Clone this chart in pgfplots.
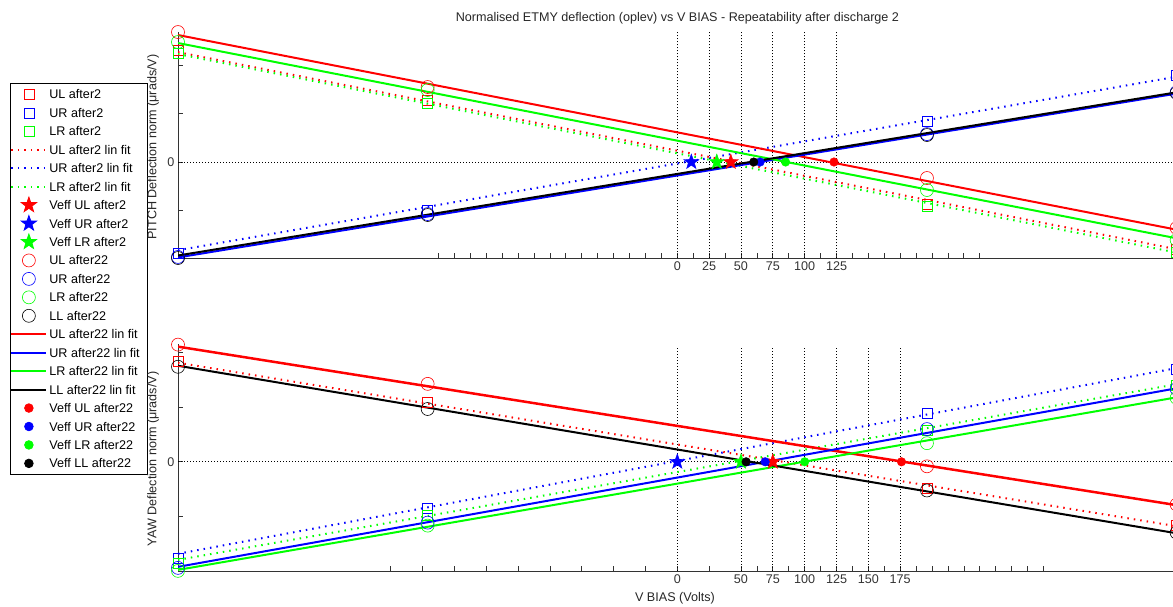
\documentclass[border=0pt]{standalone}
\usepackage{fontspec}
\setmainfont{Liberation Sans}
\usepackage{pgfplots}
\pgfplotsset{compat=1.18}
\usetikzlibrary{plotmarks}
\definecolor{mred}{rgb}{1,0,0}
\definecolor{mblue}{rgb}{0,0,1}
\definecolor{mgreen}{rgb}{0,1,0}
\pgfdeclareplotmark{fstar}{%
 \pgfpathmoveto{\pgfpointpolar{90}{\pgfplotmarksize}}%
 \pgfpathlineto{\pgfpointpolar{126}{0.4\pgfplotmarksize}}%
 \pgfpathlineto{\pgfpointpolar{162}{\pgfplotmarksize}}%
 \pgfpathlineto{\pgfpointpolar{198}{0.4\pgfplotmarksize}}%
 \pgfpathlineto{\pgfpointpolar{234}{\pgfplotmarksize}}%
 \pgfpathlineto{\pgfpointpolar{270}{0.4\pgfplotmarksize}}%
 \pgfpathlineto{\pgfpointpolar{306}{\pgfplotmarksize}}%
 \pgfpathlineto{\pgfpointpolar{342}{0.4\pgfplotmarksize}}%
 \pgfpathlineto{\pgfpointpolar{18}{\pgfplotmarksize}}%
 \pgfpathlineto{\pgfpointpolar{54}{0.4\pgfplotmarksize}}%
 \pgfpathclose\pgfusepathqfillstroke}
\newcommand{\mfont}{\fontsize{12.6}{15}\selectfont}
\pgfplotsset{
 sq/.style={only marks, mark=square, mark size=5pt, mark options={solid, line width=0.6pt, draw=#1}, color=#1},
 fitd/.style={no marks, line width=2pt, dash pattern=on 1.5pt off 5pt, color=#1},
 vst/.style={only marks, mark=fstar, mark size=8pt, color=#1, mark options={solid, draw=#1, fill=#1}},
 ci/.style={only marks, mark=o, mark size=6.5pt, mark options={solid, line width=0.6pt, draw=#1}, color=#1},
 fits/.style={no marks, line width=2pt, solid, color=#1},
 vd/.style={only marks, mark=*, mark size=4.3pt, color=#1, mark options={solid, draw=#1, fill=#1}},
 gridv/.style={no marks, black, line width=0.7pt, dash pattern=on 1pt off 2pt, forget plot},
 base/.style={scale only axis, width=998.6pt, xmin=-392, xmax=392, ymin=-2,
  axis x line=bottom, axis y line=left,
  axis line style={-, black!80, line width=0.8pt},
  tick align=inside, tick style={black!80, line width=0.8pt},
  major tick length=5pt, minor tick length=5pt,
  ytick={0}, yticklabels={0},
  every tick label/.append style={font=\mfont, text=black!80},
  legend image code/.code={%
    \draw[#1, mark repeat=2, mark phase=2] plot coordinates {(0pt,0pt) (17.5pt,0pt) (35pt,0pt)};},
 }
}
\begin{document}
\begin{tikzpicture}
\begin{axis}[base, at={(178pt,348.6pt)}, anchor=south west, height=226.5pt, ymax=2.7,
  minor ytick={-2,-1,1,2},
  xtick={0,25,50,75,100,125}, xticklabels={0,25,50,75,100,125},
  minor xtick={-187.5,-175,...,237.5},
  legend cell align=left,
  legend style={at={(axis description cs:-0.16824,0.7744)}, anchor=north west, draw=black, line width=0.8pt, fill=white,
    font=\mfont, inner xsep=0pt, inner ysep=2.8pt, row sep=2.05pt, column sep=2pt,
    nodes={inner sep=0pt, text height=12.7pt, text depth=3.7pt}}]
\addplot[gridv] coordinates {(-392,0) (392,0)};
\addplot[gridv] coordinates {(0,-2) (0,2.7)};
\addplot[gridv] coordinates {(25,-2) (25,2.7)};
\addplot[gridv] coordinates {(50,-2) (50,2.7)};
\addplot[gridv] coordinates {(75,-2) (75,2.7)};
\addplot[gridv] coordinates {(100,-2) (100,2.7)};
\addplot[gridv] coordinates {(125,-2) (125,2.7)};
% after2 squares
\addplot[sq=mred] coordinates {(-392,2.324) (-196,1.286) (196,-0.871) (392,-1.805)};
\addlegendentry{UL after2}
\addplot[sq=mblue] coordinates {(-392,-1.888) (-196,-0.996) (196,0.851) (392,1.805)};
\addlegendentry{UR after2}
\addplot[sq=mgreen] coordinates {(-392,2.261) (-196,1.224) (196,-0.913) (392,-1.867)};
\addlegendentry{LR after2}
% after2 fits
\addplot[fitd=mred] coordinates {(-392,2.28) (392,-1.81)};
\addlegendentry{UL after2 lin fit}
\addplot[fitd=mblue] coordinates {(-392,-1.83) (392,1.77)};
\addlegendentry{UR after2 lin fit}
\addplot[fitd=mgreen] coordinates {(-392,2.24) (392,-1.88)};
\addlegendentry{LR after2 lin fit}
% Veff after2
\addplot[vst=mred] coordinates {(42,0)};
\addlegendentry{Veff UL after2}
\addplot[vst=mblue] coordinates {(11,0)};
\addlegendentry{Veff UR after2}
\addplot[vst=mgreen] coordinates {(31,0)};
\addlegendentry{Veff LR after2}
% after22 circles
\addplot[ci=mred] coordinates {(-392,2.697) (-196,1.556) (196,-0.332) (392,-1.369)};
\addlegendentry{UL after22}
\addplot[ci=mblue] coordinates {(-392,-1.97) (-196,-1.08) (196,0.58) (392,1.45)};
\addlegendentry{UR after22}
\addplot[ci=mgreen] coordinates {(-392,2.490) (-196,1.494) (196,-0.581) (392,-1.618)};
\addlegendentry{LR after22}
\addplot[ci=black] coordinates {(-392,-1.992) (-196,-1.100) (196,0.560) (392,1.432)};
\addlegendentry{LL after22}
% after22 fits
\addplot[fits=mred] coordinates {(-392,2.635) (392,-1.404)};
\addlegendentry{UL after22 lin fit\rule{10pt}{0pt}}
\addplot[fits=mblue] coordinates {(-392,-1.98) (392,1.42)};
\addlegendentry{UR after22 lin fit}
\addplot[fits=mgreen] coordinates {(-392,2.469) (392,-1.583)};
\addlegendentry{LR after22 lin fit}
\addplot[fits=black] coordinates {(-392,-1.94) (392,1.446)};
\addlegendentry{LL after22 lin fit}
% Veff after22
\addplot[vd=mred] coordinates {(123,0)};
\addlegendentry{Veff UL after22}
\addplot[vd=mblue] coordinates {(65,0)};
\addlegendentry{Veff UR after22}
\addplot[vd=mgreen] coordinates {(85,0)};
\addlegendentry{Veff LR after22}
\addplot[vd=black] coordinates {(60,0)};
\addlegendentry{Veff LL after22}
\end{axis}
\begin{axis}[base, at={(178pt,36pt)}, anchor=south west, height=226.6pt, ymax=2.15,
  minor ytick={-2,-1,1,2},
  xtick={0,50,75,100,125,150,175}, xticklabels={0,50,75,100,125,150,175},
  minor xtick={-225,-200,-175,-150,-125,-100,-75,-50,-25,0,25,50,62.5,75,87.5,100,112.5,125,137.5,150,162.5,175,187.5,200,212.5,225,237.5,250,262.5,275,287.5}]
\addplot[gridv] coordinates {(-392,0) (392,0)};
\addplot[gridv] coordinates {(0,-2) (0,2.1)};
\addplot[gridv] coordinates {(50,-2) (50,2.1)};
\addplot[gridv] coordinates {(75,-2) (75,2.1)};
\addplot[gridv] coordinates {(100,-2) (100,2.1)};
\addplot[gridv] coordinates {(125,-2) (125,2.1)};
\addplot[gridv] coordinates {(150,-2) (150,2.1)};
\addplot[gridv] coordinates {(175,-2) (175,2.1)};
\addplot[sq=mred] coordinates {(-392,1.832) (-196,1.096) (196,-0.488) (392,-1.169)};
\addplot[sq=mblue] coordinates {(-392,-1.759) (-196,-0.856) (196,0.893) (392,1.703)};
\addplot[sq=mgreen] coordinates {(-392,-1.851) (-196,-0.985) (196,0.580) (392,1.409)};
\addplot[fitd=mred] coordinates {(-392,1.814) (392,-1.180)};
\addplot[fitd=mblue] coordinates {(-392,-1.685) (392,1.716)};
\addplot[fitd=mgreen] coordinates {(-392,-1.796) (392,1.420)};
\addplot[vst=mred] coordinates {(75,0)};
\addplot[vst=mblue] coordinates {(0,0)};
\addplot[vst=mgreen] coordinates {(50,0)};
\addplot[ci=mred] coordinates {(-392,2.146) (-196,1.427) (196,-0.083) (392,-0.783)};
\addplot[ci=mblue] coordinates {(-392,-1.943) (-196,-1.114) (196,0.599) (392,1.335)};
\addplot[ci=mgreen] coordinates {(-392,-1.998) (-196,-1.169) (196,0.341) (392,1.169)};
\addplot[ci=black] coordinates {(-392,1.740) (-196,0.967) (196,-0.525) (392,-1.298)};
\addplot[fits=mred, line width=2.5pt] coordinates {(-392,2.109) (392,-0.794)};
\addplot[fits=mblue] coordinates {(-392,-1.924) (392,1.346)};
\addplot[fits=mgreen] coordinates {(-392,-1.980) (392,1.180)};
\addplot[fits=black] coordinates {(-392,1.759) (392,-1.309)};
\addplot[vd=mred] coordinates {(176,0)};
\addplot[vd=mblue] coordinates {(69,0)};
\addplot[vd=mgreen] coordinates {(100,0)};
\addplot[vd=black] coordinates {(54,0)};
\end{axis}
\node[font=\mfont, text=black!85] at (677.4pt,589pt) {Normalised ETMY deflection (oplev) vs V BIAS - Repeatability after discharge 2};
\node[font=\mfont, text=black!85] at (675pt,9pt) {V BIAS (Volts)};
\node[font=\mfont, text=black!85, rotate=90] at (153pt,460pt) {PITCH Deflection norm (μrads/V)};
\node[font=\mfont, text=black!85, rotate=90] at (153pt,148pt) {YAW Deflection norm (μrads/V)};
\pgfresetboundingbox
\useasboundingbox (0pt,0pt) rectangle (1173pt,607pt);
\end{tikzpicture}
\end{document}
